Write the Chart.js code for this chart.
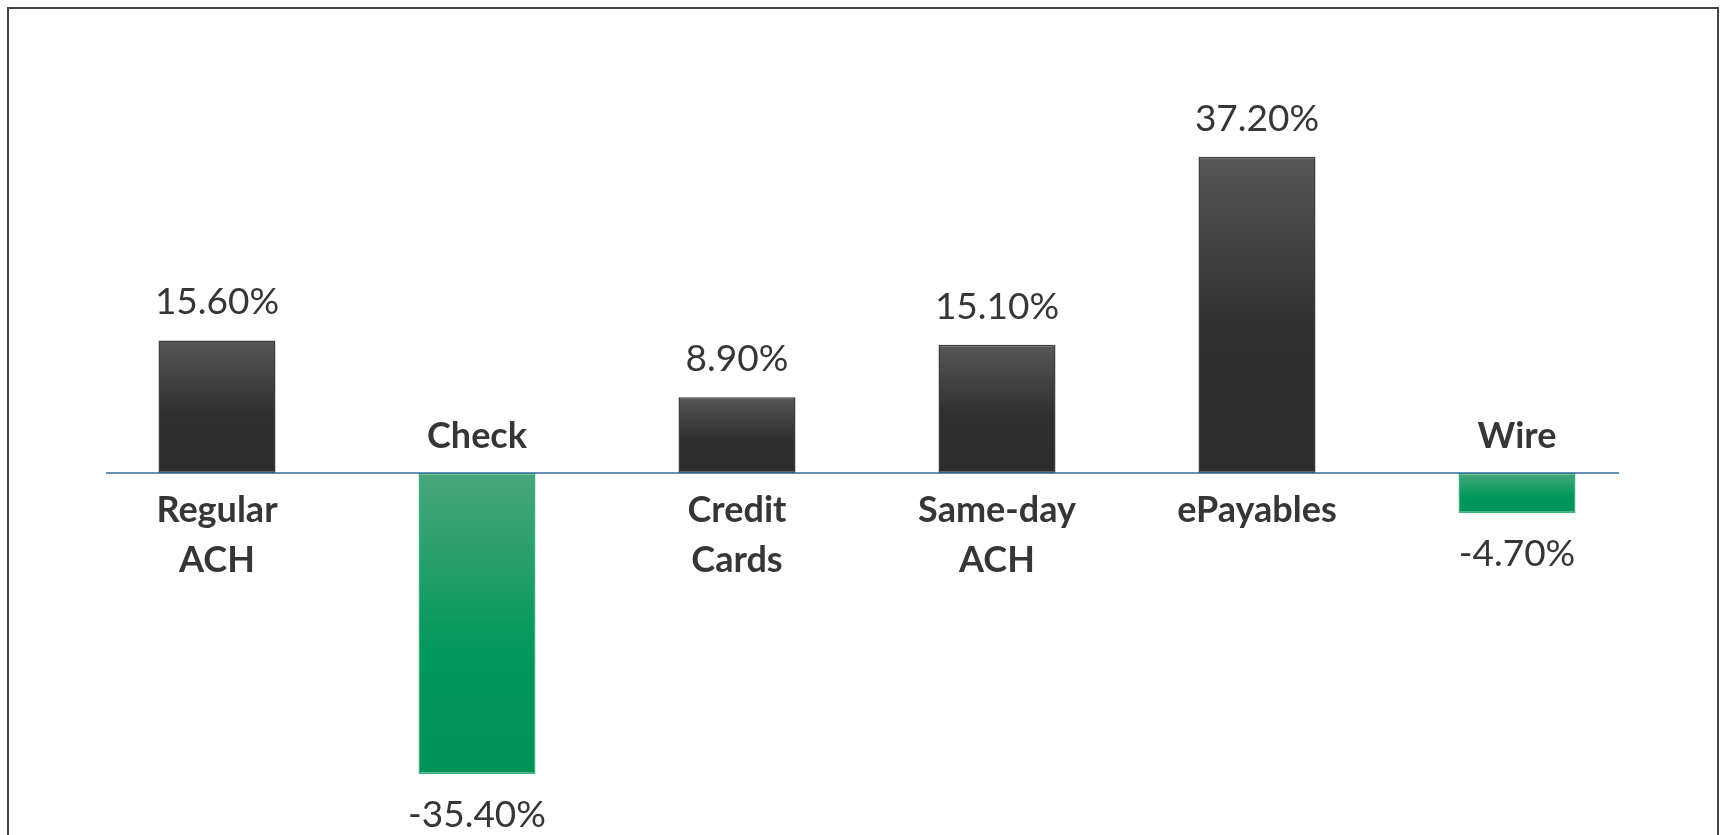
<!DOCTYPE html>
<html>
<head>
<meta charset="utf-8">
<script src="https://cdn.jsdelivr.net/npm/chart.js@4/dist/chart.umd.min.js"></script>
<style>
  html, body { margin: 0; padding: 0; background: #fff; overflow: hidden; }
  #frame { position: absolute; left: 7px; top: 7px; width: 1712px; height: 900px; border: 2px solid #454545; box-sizing: border-box; }
  #wrap { position: absolute; left: 0; top: 0; width: 1725px; height: 835px; }
</style>
</head>
<body>
<div id="frame"></div>
<div id="wrap"><canvas id="c"></canvas></div>
<script>
// Payment method change, % (values as labelled on the chart)
const CATEGORIES = [["Regular", "ACH"], ["Check"], ["Credit", "Cards"], ["Same-day", "ACH"], ["ePayables"], ["Wire"]];
const VALUES = [15.6, -35.4, 8.9, 15.1, 37.2, -4.7];

const TEXT = "#363636";
const FONT = "Lato, 'Open Sans', sans-serif";

function barFill(ctx) {
  const chart = ctx.chart;
  if (!chart.chartArea) return "#333";
  const y = chart.scales.y;
  const v = ctx.raw;
  const zero = y.getPixelForValue(0), end = y.getPixelForValue(v);
  if (v >= 0) {
    const g = chart.ctx.createLinearGradient(0, end, 0, zero);
    g.addColorStop(0, "#575757");
    g.addColorStop(0.55, "#2f2f2f");
    g.addColorStop(1, "#2d2d2d");
    return g;
  }
  const g = chart.ctx.createLinearGradient(0, zero, 0, end);
  g.addColorStop(0, "#4aa67a");
  g.addColorStop(0.6, "#00985c");
  g.addColorStop(1, "#009359");
  return g;
}

const labelsPlugin = {
  id: "labels",
  afterDatasetsDraw(chart) {
    const { ctx, chartArea } = chart;
    const zero = chart.scales.y.getPixelForValue(0);
    // zero axis line (a little inset from the category slots)
    ctx.save();
    ctx.strokeStyle = "#2f6c9c";
    ctx.lineWidth = 1.5;
    ctx.beginPath();
    ctx.moveTo(chartArea.left + 19, zero);
    ctx.lineTo(chartArea.right - 28, zero);
    ctx.stroke();

    ctx.fillStyle = TEXT;
    ctx.textAlign = "center";
    ctx.textBaseline = "alphabetic";
    chart.getDatasetMeta(0).data.forEach((bar, i) => {
      const v = VALUES[i];
      ctx.font = `400 37px ${FONT}`;
      const txt = v.toFixed(2) + "%";
      if (v >= 0) ctx.fillText(txt, bar.x, bar.y - 26);
      else ctx.fillText(txt, bar.x, bar.y + 53);

      ctx.font = `700 36px ${FONT}`;
      const lines = CATEGORIES[i];
      if (v >= 0) lines.forEach((l, k) => ctx.fillText(l, bar.x, zero + 49 + k * 50));
      else lines.forEach((l, k) => ctx.fillText(l, bar.x, zero - 25 - (lines.length - 1 - k) * 50));
    });
    ctx.restore();
  }
};

new Chart(document.getElementById("c"), {
  type: "bar",
  data: {
    labels: CATEGORIES.map((c) => c.join(" ")),
    datasets: [{
      data: VALUES,
      backgroundColor: barFill,
      borderColor: (c) => (c.raw >= 0 ? "#3c3c3c" : "#3fb27c"),
      borderWidth: 1.5,
      borderSkipped: false,
      barPercentage: 1,
      categoryPercentage: 0.45,
    }],
  },
  options: {
    responsive: true, maintainAspectRatio: false, animation: false,
    layout: { padding: { left: 87, right: 78, top: 90.5, bottom: 22 } },
    plugins: { legend: { display: false }, tooltip: { enabled: false } },
    scales: {
      x: { display: false },
      y: { display: false, min: -40, max: 45 },
    },
  },
  plugins: [labelsPlugin],
});
</script>
</body>
</html>
